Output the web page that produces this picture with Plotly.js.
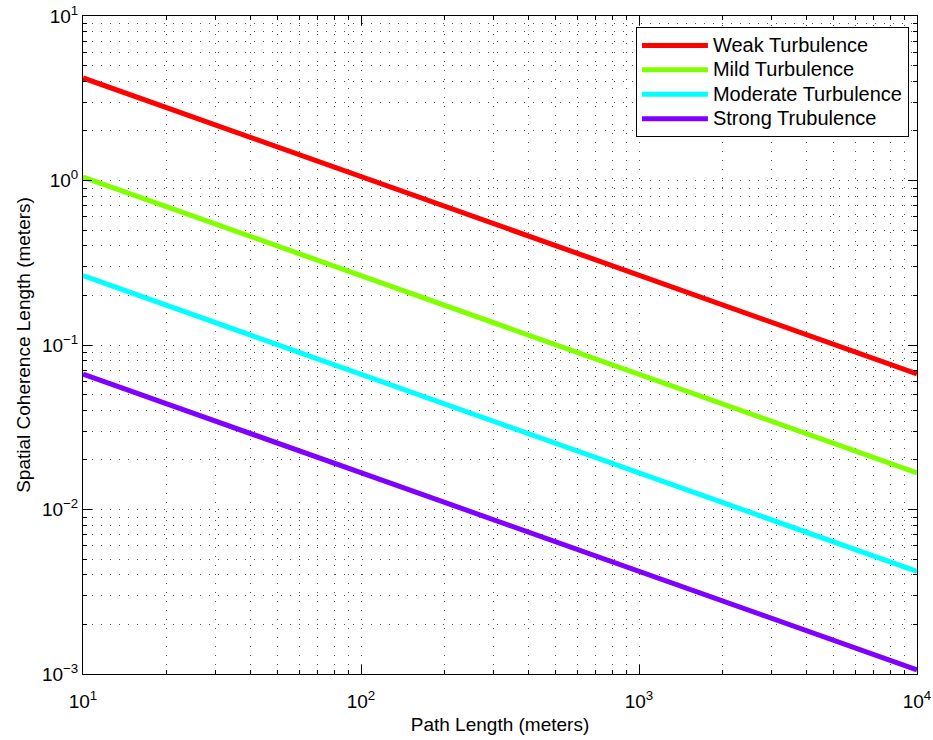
<!DOCTYPE html>
<html>
<head>
<meta charset="utf-8">
<script src="https://cdn.plot.ly/plotly-3.0.1.min.js"></script>
<style>
  html, body { margin: 0; padding: 0; background: #fff; }
  #chart { width: 933px; height: 740px; }
</style>
</head>
<body>
<div id="chart"></div>
<script>
// Path length samples (meters)
const pathLength = [10, 100, 1000, 10000];

// Spatial coherence length (meters) for each turbulence level
const weak     = [4.2,    1.06,   0.266,  0.0668];
const mild     = [1.05,   0.265,  0.0666, 0.0167];
const moderate = [0.264,  0.0665, 0.0167, 0.0042];
const strong   = [0.0665, 0.0167, 0.0042, 0.00106];

const seriesNames  = ['Weak Turbulence', 'Mild Turbulence', 'Moderate Turbulence', 'Strong Trubulence'];
const seriesValues = [weak, mild, moderate, strong];
const seriesColors = ['#ff0000', '#80ff00', '#00ffff', '#8000ff'];

// Decade tick positions and their labels
const xTickVals = [10, 100, 1000, 10000];
const xTickText = ['10<sup>1</sup>', '10<sup>2</sup>', '10<sup>3</sup>', '10<sup>4</sup>'];
const yTickVals = [0.001, 0.01, 0.1, 1, 10];
const yTickText = ['10<sup>\u22123</sup>', '10<sup>\u22122</sup>', '10<sup>\u22121</sup>', '10<sup>0</sup>', '10<sup>1</sup>'];

const font = 'Liberation Sans, Arial, Helvetica, sans-serif';

// Legend rows are spaced from the legend font size; the label itself is drawn a bit larger
const legendLabel = name => '<span style="font-size:20px">' + name + '</span>';

const traces = seriesValues.map((vals, i) => ({
  x: pathLength,
  y: vals,
  type: 'scatter',
  mode: 'lines',
  name: legendLabel(seriesNames[i]),
  line: { color: seriesColors[i], width: 5 }
}));

const gridDash = '1px,8px';
const gridColor = '#555';

function logAxis(range, tickvals, ticktext, titleText, standoff) {
  return {
    type: 'log',
    range: range,
    tickmode: 'array',
    tickvals: tickvals,
    ticktext: ticktext,
    showline: true,
    linecolor: '#000',
    linewidth: 1,
    mirror: 'ticks',
    ticks: 'inside',
    ticklen: 9,
    tickcolor: '#000',
    tickfont: { family: font, size: 19, color: '#000' },
    showgrid: true,
    gridcolor: gridColor,
    gridwidth: 1,
    griddash: gridDash,
    zeroline: false,
    minor: {
      dtick: 'D1',
      ticks: 'inside',
      ticklen: 4,
      tickcolor: '#000',
      showgrid: true,
      gridcolor: gridColor,
      gridwidth: 1,
      griddash: gridDash
    },
    title: { text: titleText, font: { family: font, size: 19, color: '#000' }, standoff: standoff }
  };
}

const layout = {
  width: 933,
  height: 740,
  margin: { l: 83, r: 16, t: 16, b: 66 },
  paper_bgcolor: '#fff',
  plot_bgcolor: '#fff',
  font: { family: font, color: '#000' },
  xaxis: Object.assign(logAxis([0.99999, 4.00001], xTickVals, xTickText, 'Path Length (meters)', 6), { ticklabelstandoff: 10 }),
  yaxis: logAxis([-3.00001, 1.00001], yTickVals, yTickText, 'Spatial Coherence Length (meters)', 6),
  showlegend: true,
  legend: {
    x: 0.663,
    y: 0.983,
    xanchor: 'left',
    yanchor: 'top',
    bgcolor: '#fff',
    bordercolor: '#000',
    borderwidth: 1,
    font: { family: font, size: 16.5, color: '#000' },
    itemwidth: 66,
    tracegroupgap: 0
  }
};

Plotly.newPlot('chart', traces, layout, { staticPlot: true, displayModeBar: false });
</script>
</body>
</html>
